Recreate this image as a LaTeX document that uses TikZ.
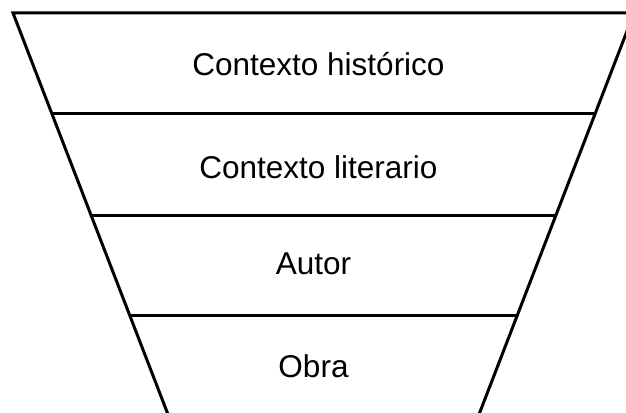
\documentclass[tikz,border=0pt]{standalone}
\usepackage{fontspec}
\setmainfont{Liberation Sans}
\usetikzlibrary{calc}
\begin{document}
\begin{tikzpicture}[x=1pt,y=-1pt,
  edge/.style={line width=3pt,black},
  label/.style={font=\fontsize{31.5}{38}\selectfont,inner sep=0pt,anchor=base}]
\useasboundingbox (0,0) rectangle (626,412);
\clip (0,0) rectangle (626,412);
\fill[white] (0,0) rectangle (626,412);
% funnel corners
\coordinate (tl) at (13,13);
\coordinate (tr) at (634,13);
\coordinate (bl) at (168.6,416);
\coordinate (br) at (478.4,416);
% divider end points
\coordinate (l1) at ($(tl)!100/403!(bl)$);
\coordinate (r1) at ($(tr)!100/403!(br)$);
\coordinate (l2) at ($(tl)!203/403!(bl)$);
\coordinate (r2) at ($(tr)!203/403!(br)$);
\coordinate (l3) at ($(tl)!303/403!(bl)$);
\coordinate (r3) at ($(tr)!303/403!(br)$);
\draw[edge,line join=miter] (bl) -- (tl) -- (tr) -- (br);
\draw[edge] (l1) -- (r1);
\draw[edge] (l2) -- (r2);
\draw[edge] (l3) -- (r3);
\node[label] (t1) at (318.5,75) {Contexto histórico};
\node[label] (t2) at (318.5,178) {Contexto literario};
\node[label] (t3) at (313.5,274) {Autor};
\node[label] (t4) at (313.5,377) {Obra};
\end{tikzpicture}
\end{document}
